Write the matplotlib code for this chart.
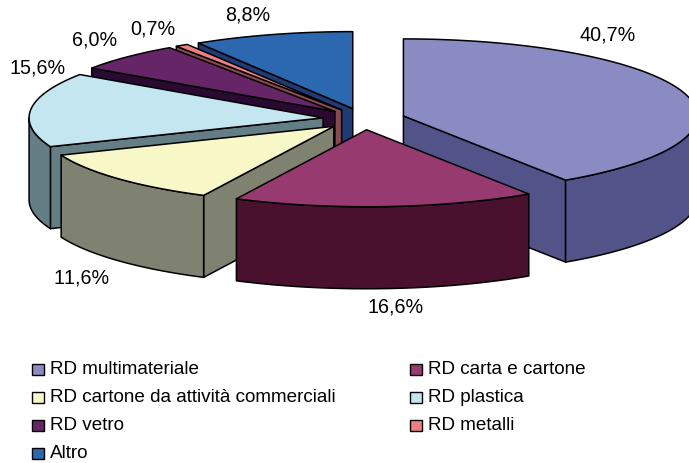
"""
Raccolta differenziata - exploded 3D pie drawn by hand, matplotlib has no 3D pie.
"""

import numpy as np
import matplotlib

matplotlib.use("Agg")
import matplotlib.pyplot as plt
from matplotlib.patches import Polygon, Rectangle

plt.rcParams["text.kerning_factor"] = 6

categories = [
    "RD multimateriale",
    "RD carta e cartone",
    "RD cartone da attività commerciali",
    "RD plastica",
    "RD vetro",
    "RD metalli",
    "Altro",
]
values = [40.7, 16.6, 11.6, 15.6, 6.0, 0.7, 8.8]
value_labels = ["40,7%", "16,6%", "11,6%", "15,6%", "6,0%", "0,7%", "8,8%"]

top_colors = ["#8B8BC3", "#963A6F", "#F7F7C8", "#C3E6F0", "#662567", "#F08080", "#2B68B0"]
side_colors = ["#525388", "#4A112F", "#7F8270", "#637E84", "#2A0A33", "#8A4A50", "#1F3A75"]

# layout, in pixels of the 689x463 picture
CENTER = (364, 119)
RX, RY = 294, 77
DEPTH = 82
EXPLODE = 0.14
LABEL_XY = [(608, 35), (396, 307), (82, 278), (38, 68), (95, 40), (153, 29), (248, 15)]
DRAW_ORDER = [6, 5, 4, 3, 0, 2, 1]
LEGEND_ROWS = [369, 397, 425, 453]
LEGEND_COLS = [32, 410]
FONT = "Liberation Sans"
LABEL_SIZE = 14.2
LEGEND_SIZE = 13.6

fig = plt.figure(figsize=(6.89, 4.63), dpi=100)
ax = fig.add_axes([0, 0, 1, 1])
ax.set_xlim(0, 689)
ax.set_ylim(463, 0)
ax.axis("off")


def rim(apex, t0, t1):
    t = np.radians(np.linspace(t0, t1, max(int(abs(t1 - t0)) * 2, 2)))
    return np.column_stack([apex[0] + RX * np.sin(t), apex[1] - RY * np.cos(t)])


def face(points, color, z):
    ax.add_patch(Polygon(points, closed=True, facecolor=color, edgecolor="black",
                         linewidth=1.1, joinstyle="round", zorder=z))


edges = np.concatenate([[0], np.cumsum(values)]) / np.sum(values) * 360

for z, i in enumerate(DRAW_ORDER):
    t0, t1 = edges[i], edges[i + 1]
    mid = np.radians((t0 + t1) / 2)
    apex = np.array([CENTER[0] + EXPLODE * RX * np.sin(mid),
                     CENTER[1] - EXPLODE * RY * np.cos(mid)])
    down = np.array([0, DEPTH])

    # cut faces, only those turned to the viewer
    for t, visible in ((t0, np.sin(np.radians(t0)) < 0), (t1, np.sin(np.radians(t1)) > 0)):
        if visible:
            end = rim(apex, t, t + 1)[0]
            face([apex, end, end + down, apex + down], side_colors[i], z * 10 + 1)

    # outer wall, only the part turned to the viewer
    a, b = max(t0, 90), min(t1, 270)
    if b > a:
        arc = rim(apex, a, b)
        face(np.vstack([arc, (arc + down)[::-1]]), side_colors[i], z * 10 + 2)

    # top
    face(np.vstack([[apex], rim(apex, t0, t1)]), top_colors[i], z * 10 + 3)

for (x, y), label in zip(LABEL_XY, value_labels):
    ax.text(x, y, label, ha="center", va="center", family=FONT, fontsize=LABEL_SIZE,
            color="black", zorder=200)

for i, name in enumerate(categories):
    x = LEGEND_COLS[i % 2]
    y = LEGEND_ROWS[i // 2]
    ax.add_patch(Rectangle((x, y - 5.5), 12, 11, facecolor=top_colors[i], edgecolor="black",
                           linewidth=1.0, zorder=200))
    ax.text(x + 18, y, name, ha="left", va="center", family=FONT, fontsize=LEGEND_SIZE,
            color="black", zorder=200)

fig.savefig("out.png", dpi=100, facecolor="white")
plt.close(fig)
